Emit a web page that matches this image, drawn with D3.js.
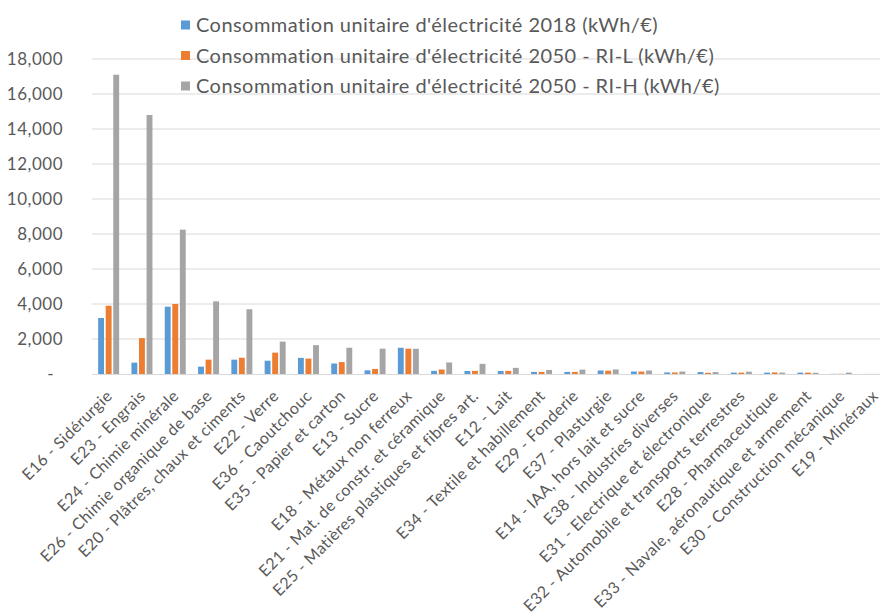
<!DOCTYPE html>
<html>
<head>
<meta charset="utf-8">
<script src="https://cdn.jsdelivr.net/npm/d3@7"></script>
<style>
  html, body { margin: 0; padding: 0; background: #fff; }
  svg { display: block; }
  text { font-family: Lato, "Open Sans", sans-serif; fill: #595959; }
</style>
</head>
<body>
<svg id="chart" width="880" height="613"></svg>
<script>
// Sectors, ordered by 2050 RI-H consumption
const categories = [
  "E16 - Sidérurgie", "E23 - Engrais", "E24 - Chimie minérale",
  "E26 - Chimie organique de base", "E20 - Plâtres, chaux et ciments",
  "E22 - Verre", "E36 - Caoutchouc", "E35 - Papier et carton", "E13 - Sucre",
  "E18 - Métaux non ferreux", "E21 - Mat. de constr. et céramique",
  "E25 - Matières plastiques et fibres art.", "E12 - Lait",
  "E34 - Textile et habillement", "E29 - Fonderie", "E37 - Plasturgie",
  "E14 - IAA, hors lait et sucre", "E38 - Industries diverses",
  "E31 - Electrique et électronique", "E32 - Automobile et transports terrestres",
  "E28 - Pharmaceutique", "E33 - Navale, aéronautique et armement",
  "E30 - Construction mécanique", "E19 - Minéraux"
];

// Unit electricity consumption (kWh/€)
const conso2018 = [3200, 650, 3850, 420, 820, 760, 920, 600, 210, 1500, 180, 170,
                   170, 120, 120, 200, 140, 90, 110, 80, 80, 80, 10, 5];
const conso2050L = [3900, 2050, 4000, 820, 930, 1220, 880, 680, 290, 1450, 260, 180,
                    180, 120, 120, 190, 140, 90, 70, 80, 90, 80, 15, 5];
const conso2050H = [17100, 14800, 8250, 4150, 3700, 1850, 1650, 1500, 1450, 1440, 660, 580,
                    350, 230, 250, 260, 200, 140, 110, 130, 80, 70, 80, 10];

const seriesNames = [
  "Consommation unitaire d'électricité 2018 (kWh/€)",
  "Consommation unitaire d'électricité 2050 - RI-L (kWh/€)",
  "Consommation unitaire d'électricité 2050 - RI-H (kWh/€)"
];
const seriesColors = ["#5B9BD5", "#ED7D31", "#A5A5A5"];
const yTicks = [0, 2000, 4000, 6000, 8000, 10000, 12000, 14000, 16000, 18000];

const seriesValues = [conso2018, conso2050L, conso2050H];

const svg = d3.select("#chart");

const plotLeft = 92, plotRight = 891.2, plotTop = 59, plotBottom = 374;

const x = d3.scaleBand().domain(categories).range([plotLeft, plotRight]).padding(0);
const groupWidth = 21;
const x1 = d3.scaleBand().domain(d3.range(3)).range([0, groupWidth]).paddingInner(0.22);
const y = d3.scaleLinear().domain([0, 18000]).range([plotBottom, plotTop]);

// Horizontal gridlines
svg.append("g")
  .selectAll("line")
  .data(yTicks.filter(d => d > 0))
  .join("line")
  .attr("x1", plotLeft).attr("x2", 880)
  .attr("y1", d => y(d)).attr("y2", d => y(d))
  .attr("stroke", "#D9D9D9").attr("stroke-width", 1.2);

// Y axis labels (accounting style: zero drawn as a dash)
const fmt = d3.format(",");
const yAxis = d3.axisLeft(y).tickValues(yTicks).tickSize(0).tickPadding(0)
  .tickFormat(d => d === 0 ? "-" : fmt(d));
const yg = svg.append("g").attr("transform", `translate(63,0)`).call(yAxis);
yg.select(".domain").remove();
yg.selectAll("text")
  .attr("font-family", "Lato, 'Open Sans', sans-serif")
  .attr("font-size", 17)
  .attr("letter-spacing", 0.5)
  .attr("fill", "#595959")
  .attr("dy", "0.34em")
  .attr("dx", d => d === 0 ? -9 : 0);

// Bars
const groups = svg.append("g")
  .selectAll("g")
  .data(categories)
  .join("g")
  .attr("transform", c => `translate(${x(c) + (x.bandwidth() - groupWidth) / 2},0)`);

groups.selectAll("rect")
  .data((c, i) => seriesValues.map((vals, s) => ({ s, v: vals[i] })))
  .join("rect")
  .attr("x", d => x1(d.s))
  .attr("width", x1.bandwidth())
  .attr("y", d => y(d.v))
  .attr("height", d => y(0) - y(d.v))
  .attr("fill", d => seriesColors[d.s]);

// Category axis
svg.append("line")
  .attr("x1", plotLeft).attr("x2", 880)
  .attr("y1", plotBottom + 0.5).attr("y2", plotBottom + 0.5)
  .attr("stroke", "#D9D9D9").attr("stroke-width", 1.2);

svg.append("g")
  .selectAll("text")
  .data(categories)
  .join("text")
  .attr("transform", c => `translate(${x(c) + x.bandwidth() / 2 + 4.5},397) rotate(-45)`)
  .attr("text-anchor", "end")
  .attr("font-size", 16)
  .attr("letter-spacing", 0.4)
  .text(c => c);

// Legend
const legend = svg.append("g")
  .selectAll("g")
  .data(seriesNames)
  .join("g")
  .attr("transform", (d, i) => `translate(181,${25 + i * 30.5})`);
legend.append("rect")
  .attr("x", 0).attr("y", -4.5).attr("width", 9).attr("height", 9)
  .attr("fill", (d, i) => seriesColors[i]);
legend.append("text")
  .attr("x", 15).attr("dy", "0.35em")
  .attr("font-size", 20)
  .attr("letter-spacing", 0.45)
  .text(d => d);
</script>
</body>
</html>
